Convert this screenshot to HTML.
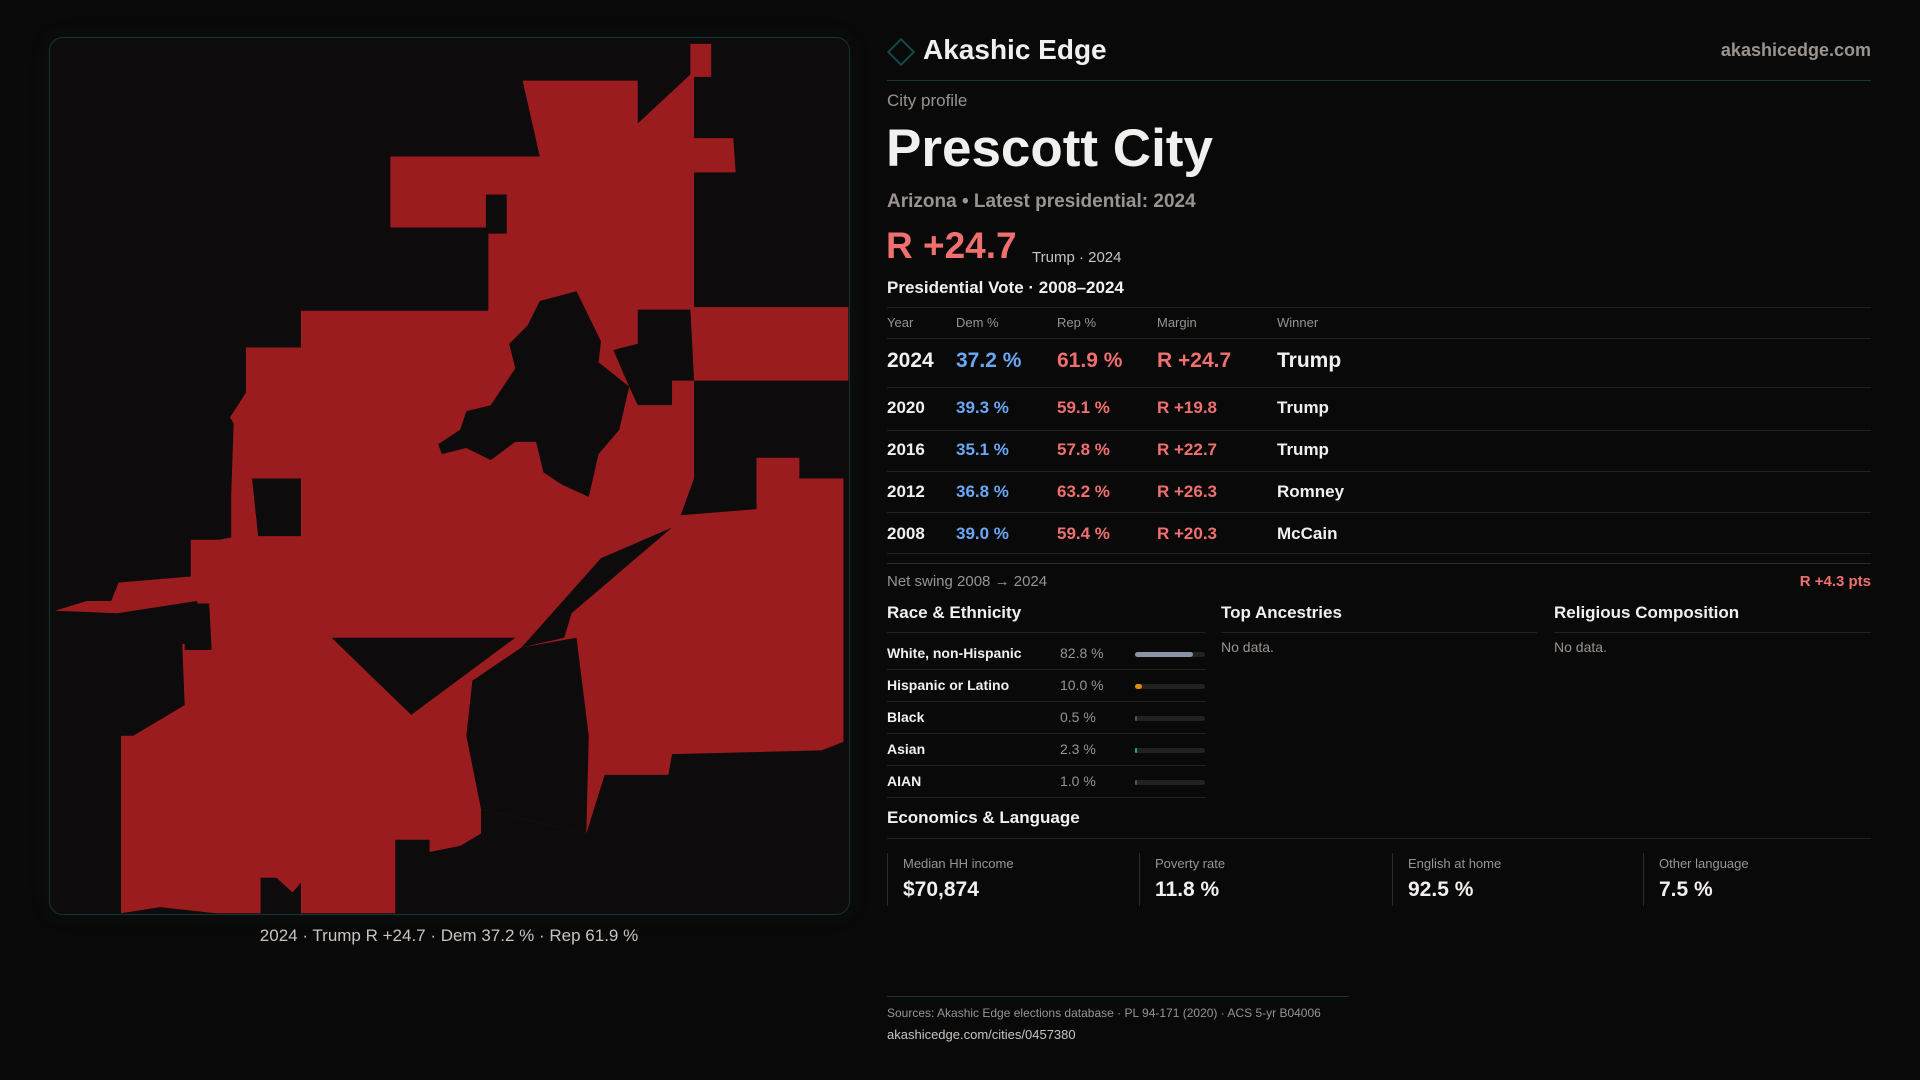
<!DOCTYPE html>
<html><head><meta charset="utf-8"><style>
*{margin:0;padding:0;box-sizing:border-box}
body{width:1920px;height:1080px;background:#0a0909;font-family:"Liberation Sans",sans-serif;color:#f2f0ee;position:relative;overflow:hidden}
.a{position:absolute;white-space:nowrap}
.muted{color:#9a9490}
.red{color:#f07070}
.blue{color:#6aa7f5}
.hl{position:absolute;height:1px;background:#222}
.bar{position:absolute;left:1135px;width:70px;height:5px;border-radius:3px;background:#222}
.card{position:absolute;top:853px;height:53px;border-left:1px solid #2a2a2a;padding-left:15px}
</style></head><body>
<div class="a" style="left:49px;top:37px;width:801px;height:878px;border:1px solid #123535;border-radius:14px;background:#0d0b0c;overflow:hidden;box-shadow:0 0 20px rgba(20,80,80,.15)">
<svg width="801" height="878" viewBox="49 37 801 878">
<g transform="scale(1.2245)" fill="#9b1c1e">
<polygon points="426,65 520,65 520,100 563,60 563,35 580,35 580,62 566,62 566,112 598,112 600,140 566,140 566,250 692,250 692,310 566,310 566,390 555,420 617,415 617,373 652,373 652,390 688,390 688,605 670,612 548,615 545,632 493,632 478,680 392,660 392,680 375,690 350,695 350,685 322,685 322,745 245,745 245,720 238,728 225,716 212,716 212,745 175,745 130,740 98,745 98,600 108,600 150,575 148,525 168,525 160,490 95,500 44,498 70,490 90,490 96,475 155,470 155,440 178,440 188,438 188,403 190,345 187,340 200,320 200,283 245,283 245,253 398,253 398,185 318,185 318,127 440,127"/>
<g fill="#0d0b0c">
<polygon points="396,158 413,158 413,190 396,190"/>
<polygon points="470,237 490,278 488,295 513,315 505,350 488,370 480,405 458,395 443,385 437,360 420,360 400,375 380,365 360,370 357,362 375,350 380,335 400,330 412,312 420,300 415,280 430,265 440,245"/>
<polygon points="520,252 563,252 566,310 548,310 548,330 520,330 513,315 500,285 520,280"/>
<polygon points="425,528 490,455 548,430 466,500 460,520"/>
<polygon points="270,520 420,520 335,583"/>
<polygon points="385,555 425,528 470,520 480,600 478,680 392,660 380,600"/>
<polygon points="205,390 245,390 245,437 210,437"/>
<polygon points="150,492 170,492 172,530 150,530"/>
</g></g></svg></div>
<div class="a muted" style="left:449px;top:926px;transform:translateX(-50%);font-size:17px;color:#c9c3be">2024 · Trump R +24.7 · Dem 37.2 % · Rep 61.9 %</div>

<div class="a" style="left:891px;top:42px;width:20px;height:20px;border:2px solid #134a4a;transform:rotate(45deg)"></div>
<div class="a" style="left:923px;top:34px;font-size:28px;font-weight:bold">Akashic Edge</div>
<div class="a muted" style="right:49px;top:40px;font-size:18px;font-weight:bold">akashicedge.com</div>
<div class="hl" style="left:887px;width:984px;top:80px;background:#143838"></div>
<div class="a muted" style="left:887px;top:91px;font-size:17px">City profile</div>
<div class="a" style="left:886px;top:118px;font-size:53px;font-weight:bold">Prescott City</div>
<div class="a muted" style="left:887px;top:191px;font-size:19px;font-weight:bold">Arizona • Latest presidential: 2024</div>
<div class="a red" style="left:886px;top:225px;font-size:37px;font-weight:bold">R +24.7</div>
<div class="a" style="left:1032px;top:249px;font-size:15px;color:#c9c3be">Trump · 2024</div>
<div class="a" style="left:887px;top:278px;font-size:17px;font-weight:bold">Presidential Vote · 2008–2024</div>
<div class="hl" style="left:887px;width:984px;top:307px"></div>
<div class="muted" style="font-size:13px">
<div class="a" style="left:887px;top:315px">Year</div><div class="a" style="left:956px;top:315px">Dem %</div><div class="a" style="left:1057px;top:315px">Rep %</div><div class="a" style="left:1157px;top:315px">Margin</div><div class="a" style="left:1277px;top:315px">Winner</div></div>
<div class="hl" style="left:887px;width:984px;top:338px"></div>
<div id="rows"></div>
<div class="hl" style="left:887px;width:984px;top:563px;background:#2a2a2a"></div>
<div class="a muted" style="left:887px;top:573px;font-size:15px">Net swing 2008 → 2024</div>
<div class="a red" style="right:49px;top:573px;font-size:15px;font-weight:bold">R +4.3 pts</div>

<div class="a" style="left:887px;top:603px;font-size:17px;font-weight:bold">Race &amp; Ethnicity</div>
<div class="hl" style="left:887px;width:318px;top:632px"></div>
<div class="a" style="left:1221px;top:603px;font-size:17px;font-weight:bold">Top Ancestries</div>
<div class="hl" style="left:1221px;width:316px;top:632px"></div>
<div class="a muted" style="left:1221px;top:639px;font-size:14px">No data.</div>
<div class="a" style="left:1554px;top:603px;font-size:17px;font-weight:bold">Religious Composition</div>
<div class="hl" style="left:1554px;width:317px;top:632px"></div>
<div class="a muted" style="left:1554px;top:639px;font-size:14px">No data.</div>
<div id="race"></div>

<div class="a" style="left:887px;top:808px;font-size:17px;font-weight:bold">Economics &amp; Language</div>
<div class="hl" style="left:887px;width:984px;top:838px"></div>
<div class="card" style="left:887px"><div class="muted" style="font-size:13px;margin-top:3px">Median HH income</div><div style="font-size:21px;font-weight:bold;margin-top:7px">$70,874</div></div>
<div class="card" style="left:1139px"><div class="muted" style="font-size:13px;margin-top:3px">Poverty rate</div><div style="font-size:21px;font-weight:bold;margin-top:7px">11.8 %</div></div>
<div class="card" style="left:1392px"><div class="muted" style="font-size:13px;margin-top:3px">English at home</div><div style="font-size:21px;font-weight:bold;margin-top:7px">92.5 %</div></div>
<div class="card" style="left:1643px"><div class="muted" style="font-size:13px;margin-top:3px">Other language</div><div style="font-size:21px;font-weight:bold;margin-top:7px">7.5 %</div></div>

<div class="hl" style="left:887px;width:462px;top:996px;background:#143838"></div>
<div class="a muted" style="left:887px;top:1006px;font-size:12px">Sources: Akashic Edge elections database · PL 94-171 (2020) · ACS 5-yr B04006</div>
<div class="a" style="left:887px;top:1027px;font-size:13px;color:#c9c3be">akashicedge.com/cities/0457380</div>
<script>
const years=["2024","2020","2016","2012","2008"];
const dem=[37.2,39.3,35.1,36.8,39.0];
const rep=[61.9,59.1,57.8,63.2,59.4];
const margins=[24.7,19.8,22.7,26.3,20.3];
const winners=["Trump","Trump","Trump","Romney","McCain"];
const raceLabels=["White, non-Hispanic","Hispanic or Latino","Black","Asian","AIAN"];
const raceValues=[82.8,10.0,0.5,2.3,1.0];
const raceColors=["#8a94a6","#e08a10","#555","#2aa98a","#555"];
const rowsEl=document.getElementById('rows');
const rowTops=[349,398,440,482,524];
years.forEach((y,i)=>{
 const big=i===0, fs=big?21:17, t=rowTops[i];
 const cells=[[887,y,'#f2f0ee'],[956,dem[i].toFixed(1)+' %','#6aa7f5'],[1057,rep[i].toFixed(1)+' %','#f07070'],[1157,'R +'+margins[i].toFixed(1),'#f07070'],[1277,winners[i],'#f2f0ee']];
 cells.forEach(c=>{const d=document.createElement('div');d.className='a';
 
 
 d.style.cssText=`left:${c[0]}px;top:${t}px;font-size:${fs}px;font-weight:bold;color:${c[2]}`;d.textContent=c[1];rowsEl.appendChild(d);});
 const hr=document.createElement('div');hr.className='hl';
 
 
 hr.style.cssText=`left:887px;width:984px;top:${[387,430,471,512,553][i]}px`;rowsEl.appendChild(hr);
});
const raceEl=document.getElementById('race');
raceLabels.forEach((l,i)=>{
 const t=645+i*32;
 const a=document.createElement('div');a.className='a';
 
 
 a.style.cssText=`left:887px;top:${t}px;font-size:14px;font-weight:bold`;a.textContent=l;raceEl.appendChild(a);
 const v=document.createElement('div');v.className='a muted';
 
 
 v.style.cssText=`left:1060px;top:${t}px;font-size:14px`;v.textContent=raceValues[i].toFixed(1)+' %';raceEl.appendChild(v);
 const b=document.createElement('div');b.className='bar';
 
 
 b.style.top=(t+7)+'px';raceEl.appendChild(b);
 const f=document.createElement('div');f.className='bar';
 
 
 f.style.top=(t+7)+'px';f.style.background=raceColors[i];f.style.width=Math.max(1.5,raceValues[i]/100*70)+'px';raceEl.appendChild(f);
 const hr=document.createElement('div');hr.className='hl';
 
 
 hr.style.cssText=`left:887px;width:318px;top:${t+24}px`;raceEl.appendChild(hr);
});
</script>
</body></html>
